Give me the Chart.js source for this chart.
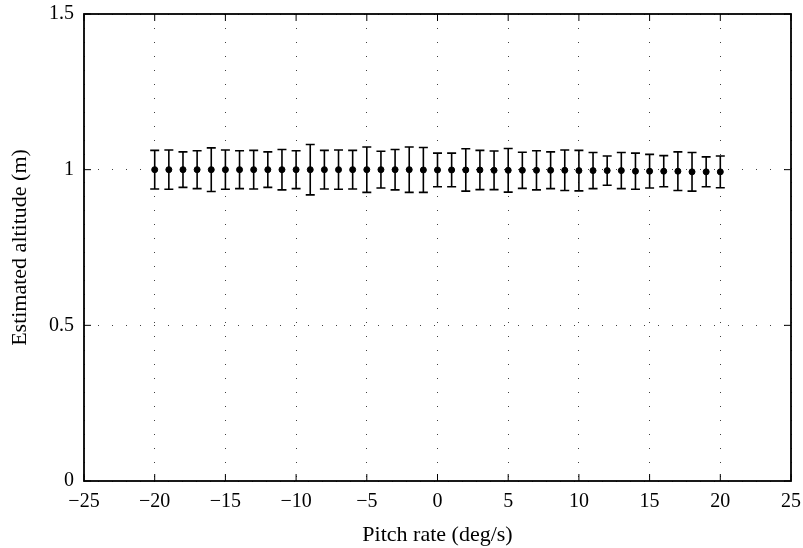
<!DOCTYPE html>
<html lang="en">
<head>
<meta charset="UTF-8">
<title>Estimated altitude vs pitch rate</title>
<script src="https://cdn.jsdelivr.net/npm/chart.js"></script>
<style>
  body { margin: 0; background: #fff; }
  #grafico { display: block; }
</style>
</head>
<body>
<canvas id="grafico" width="803" height="548"></canvas>
<script>
  // pitch rate (deg/s)
  const pitchRates = [-20, -19, -18, -17, -16, -15, -14, -13, -12, -11,
                      -10, -9, -8, -7, -6, -5, -4, -3, -2, -1,
                      0, 1, 2, 3, 4, 5, 6, 7, 8, 9,
                      10, 11, 12, 13, 14, 15, 16, 17, 18, 19, 20];

  // estimated altitude mean (m)
  const altMean = [1.000, 1.000, 1.000, 1.000, 1.000, 1.000, 1.000, 1.000, 1.000, 1.000,
                   1.000, 1.000, 1.000, 1.000, 1.000, 1.000, 1.000, 1.000, 1.000, 0.999,
                   0.999, 0.999, 0.999, 0.999, 0.998, 0.998, 0.998, 0.998, 0.998, 0.998,
                   0.997, 0.997, 0.997, 0.997, 0.995, 0.995, 0.995, 0.995, 0.993, 0.993, 0.993];

  // error bar half length (m)
  const altErr = [0.062, 0.063, 0.057, 0.061, 0.070, 0.063, 0.061, 0.062, 0.057, 0.065,
                  0.061, 0.081, 0.062, 0.063, 0.062, 0.073, 0.059, 0.065, 0.073, 0.072,
                  0.054, 0.054, 0.068, 0.063, 0.062, 0.070, 0.058, 0.063, 0.059, 0.065,
                  0.065, 0.058, 0.047, 0.058, 0.058, 0.054, 0.050, 0.062, 0.062, 0.048, 0.051];

  const xTicks = [-25, -20, -15, -10, -5, 0, 5, 10, 15, 20, 25];
  const yTicks = [0, 0.5, 1, 1.5];

  const fonte = 'Liberation Serif';

  // barras de erro, desenhadas com as escalas do proprio chart
  const errorBars = {
    id: 'errorBars',
    beforeDatasetsDraw(chart) {
      const ctx = chart.ctx;
      const x = chart.scales.x, y = chart.scales.y;
      ctx.save();
      ctx.strokeStyle = '#000';
      ctx.lineWidth = 1.6;
      pitchRates.forEach((p, i) => {
        const px = x.getPixelForValue(p);
        const top = y.getPixelForValue(altMean[i] + altErr[i]);
        const bot = y.getPixelForValue(altMean[i] - altErr[i]);
        ctx.beginPath();
        ctx.moveTo(px, top); ctx.lineTo(px, bot);
        ctx.moveTo(px - 4.5, top); ctx.lineTo(px + 4.5, top);
        ctx.moveTo(px - 4.5, bot); ctx.lineTo(px + 4.5, bot);
        ctx.stroke();
      });
      ctx.restore();
    },
    afterDraw(chart) {
      // moldura e ticks para dentro
      const ctx = chart.ctx;
      const a = chart.chartArea;
      const x = chart.scales.x, y = chart.scales.y;
      ctx.save();
      ctx.strokeStyle = '#000';
      ctx.lineWidth = 1;
      ctx.beginPath();
      xTicks.forEach(t => {
        const px = x.getPixelForValue(t);
        ctx.moveTo(px, a.bottom); ctx.lineTo(px, a.bottom - 7);
        ctx.moveTo(px, a.top); ctx.lineTo(px, a.top + 7);
      });
      yTicks.forEach(t => {
        const py = y.getPixelForValue(t);
        ctx.moveTo(a.left, py); ctx.lineTo(a.left + 7, py);
        ctx.moveTo(a.right, py); ctx.lineTo(a.right - 7, py);
      });
      ctx.stroke();
      ctx.lineWidth = 1.8;
      ctx.strokeRect(a.left, a.top, a.right - a.left, a.bottom - a.top);
      ctx.restore();
    }
  };

  const menos = v => String(v).replace('-', '\u2212');

  const config = {
    type: 'scatter',
    data: {
      datasets: [{
        label: 'Estimated altitude',
        data: pitchRates.map((p, i) => ({ x: p, y: altMean[i] })),
        backgroundColor: '#000',
        borderColor: '#000',
        pointRadius: 3,
        pointHoverRadius: 3
      }]
    },
    options: {
      responsive: false,
      animation: false,
      devicePixelRatio: 1,
      layout: { padding: { top: 14, right: 12, left: 0, bottom: 0 } },
      plugins: {
        legend: { display: false },
        tooltip: { enabled: false }
      },
      scales: {
        x: {
          type: 'linear',
          min: -25,
          max: 25,
          afterFit(scale) {
            scale.height = 67;
            scale.paddingLeft = 0;
            scale.paddingRight = 0;
          },
          afterBuildTicks(scale) { scale.ticks = xTicks.map(v => ({ value: v })); },
          grid: {
            color: 'rgba(0,0,0,0.75)',
            lineWidth: 1,
            drawTicks: false
          },
          border: { display: false, dash: [1, 13] },
          ticks: {
            padding: 9,
            color: '#000',
            font: { family: fonte, size: 20 },
            callback: v => menos(v)
          },
          title: {
            display: true,
            text: 'Pitch rate (deg/s)',
            color: '#000',
            font: { family: fonte, size: 22 },
            padding: { top: 2, bottom: 0 }
          }
        },
        y: {
          type: 'linear',
          min: 0,
          max: 1.5,
          afterFit(scale) {
            scale.width = 84;
            scale.paddingTop = 0;
            scale.paddingBottom = 0;
          },
          afterBuildTicks(scale) { scale.ticks = yTicks.map(v => ({ value: v })); },
          grid: {
            color: 'rgba(0,0,0,0.75)',
            lineWidth: 1,
            drawTicks: false
          },
          border: { display: false, dash: [1, 13] },
          ticks: {
            padding: 10,
            color: '#000',
            font: { family: fonte, size: 20 },
            callback: v => menos(v)
          },
          title: {
            display: true,
            text: 'Estimated altitude (m)',
            color: '#000',
            font: { family: fonte, size: 22 },
            padding: { top: 7, bottom: 0 }
          }
        }
      }
    },
    plugins: [errorBars]
  };

  new Chart(document.getElementById('grafico'), config);
</script>
</body>
</html>
